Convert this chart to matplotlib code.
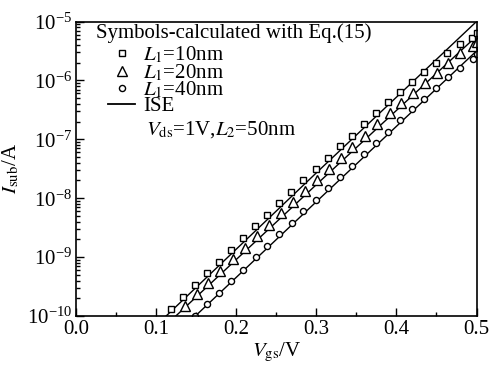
import matplotlib
matplotlib.use('Agg')
import matplotlib.pyplot as plt
import numpy as np

# values (log10 of current, A)
v_sq = [0.119, 0.134, 0.149, 0.163, 0.179, 0.194, 0.208, 0.224, 0.239, 0.254,
        0.269, 0.283, 0.299, 0.314, 0.329, 0.345, 0.359, 0.375, 0.390, 0.405,
        0.419, 0.434, 0.450, 0.463, 0.479, 0.494, 0.500]
lg_sq = [-9.881, -9.677, -9.472, -9.273, -9.076, -8.876, -8.677, -8.480, -8.281, -8.081,
         -7.894, -7.697, -7.503, -7.310, -7.118, -6.936, -6.743, -6.556, -6.369, -6.204,
         -6.028, -5.858, -5.698, -5.540, -5.387, -5.273, -5.188]

v_tri = [0.136, 0.151, 0.165, 0.180, 0.196, 0.211, 0.226, 0.241, 0.256, 0.271,
         0.286, 0.301, 0.316, 0.331, 0.345, 0.361, 0.376, 0.392, 0.406, 0.421,
         0.436, 0.451, 0.465, 0.480, 0.496, 0.500]
lg_tri = [-9.825, -9.625, -9.433, -9.229, -9.035, -8.847, -8.650, -8.451, -8.252, -8.071,
          -7.884, -7.685, -7.503, -7.315, -7.128, -6.936, -6.748, -6.561, -6.391, -6.209,
          -6.038, -5.880, -5.710, -5.528, -5.415, -5.347]

v_cir = [0.149, 0.164, 0.179, 0.194, 0.209, 0.225, 0.239, 0.254, 0.270, 0.284,
         0.300, 0.315, 0.329, 0.345, 0.359, 0.375, 0.390, 0.405, 0.420, 0.434,
         0.450, 0.464, 0.480, 0.495, 0.500]
lg_cir = [-10.005, -9.804, -9.603, -9.409, -9.217, -9.004, -8.808, -8.607, -8.417, -8.217,
          -8.025, -7.826, -7.639, -7.446, -7.254, -7.060, -6.871, -6.680, -6.493, -6.309,
          -6.132, -5.940, -5.783, -5.630, -5.557]

# ISE lines
v_ise10 = [0.1125, 0.30, 0.50]
lg_ise10 = [-10.0, -7.57, -5.0]
v_ise20 = [0.1246, 0.30, 0.50]
lg_ise20 = [-10.0, -7.77, -5.25]
v_ise40 = [0.149, 0.30, 0.50]
lg_ise40 = [-10.0, -8.06, -5.5]

labels = ['$L_1$=10nm', '$L_1$=20nm', '$L_1$=40nm', 'ISE']

plt.rcParams['font.family'] = ['Liberation Serif', 'DejaVu Serif']
plt.rcParams['mathtext.fontset'] = 'stix'
plt.rcParams['font.size'] = 15

fig = plt.figure(figsize=(4.91, 3.69), dpi=100)
ax = fig.add_axes([0.1548, 0.1436, 0.8157, 0.7981])

ax.plot(v_ise10, 10.0 ** np.array(lg_ise10), 'k-', lw=1.0)
ax.plot(v_ise20, 10.0 ** np.array(lg_ise20), 'k-', lw=1.0)
ax.plot(v_ise40, 10.0 ** np.array(lg_ise40), 'k-', lw=1.0)

h1, = ax.plot(v_sq, 10.0 ** np.array(lg_sq), 's', ms=3.8, mfc='white', mec='black', mew=1.0, ls='none')
h2, = ax.plot(v_tri, 10.0 ** np.array(lg_tri), '^', ms=6.5, mfc='white', mec='black', mew=1.0, ls='none')
h3, = ax.plot(v_cir, 10.0 ** np.array(lg_cir), 'o', ms=4.4, mfc='white', mec='black', mew=1.0, ls='none')
h4, = ax.plot([], [], 'k-', lw=1.3)

ax.set_yscale('log')
ax.set_xlim(0.0, 0.5)
ax.set_ylim(1e-10, 1e-5)
ax.set_xticks([0.0, 0.1, 0.2, 0.3, 0.4, 0.5])
ax.set_xticklabels(['0.0', '0.1', '0.2', '0.3', '0.4', '0.5'])
ax.set_xticks([0.05, 0.15, 0.25, 0.35, 0.45], minor=True)
ax.tick_params(which='both', direction='in', top=False, right=False, width=1.0)
ax.tick_params(which='major', length=6)
ax.tick_params(which='minor', length=3)
ax.tick_params(axis='x', pad=3)
ax.tick_params(axis='y', pad=3)
for s in ax.spines.values():
    s.set_linewidth(1.2)

ax.set_xlabel(r'$V_{\rm gs}$/V', labelpad=1)
ax.set_ylabel(r'$I_{\rm sub}$/A', labelpad=4)

ax.text(0.05, 0.995, 'Symbols-calculated with Eq.(15)', transform=ax.transAxes, va='top', ha='left')
leg = ax.legend([h1, h2, h3, h4], labels, loc='upper left', bbox_to_anchor=(0.08, 0.92),
                frameon=False, handlelength=1.3, handletextpad=0.4, labelspacing=-0.17,
                borderpad=0.0, borderaxespad=0.0)
ax.text(0.175, 0.67, r'$V_{\rm ds}$=1V,$L_2$=50nm', transform=ax.transAxes, va='top', ha='left')

plt.savefig('out.png', dpi=100)
